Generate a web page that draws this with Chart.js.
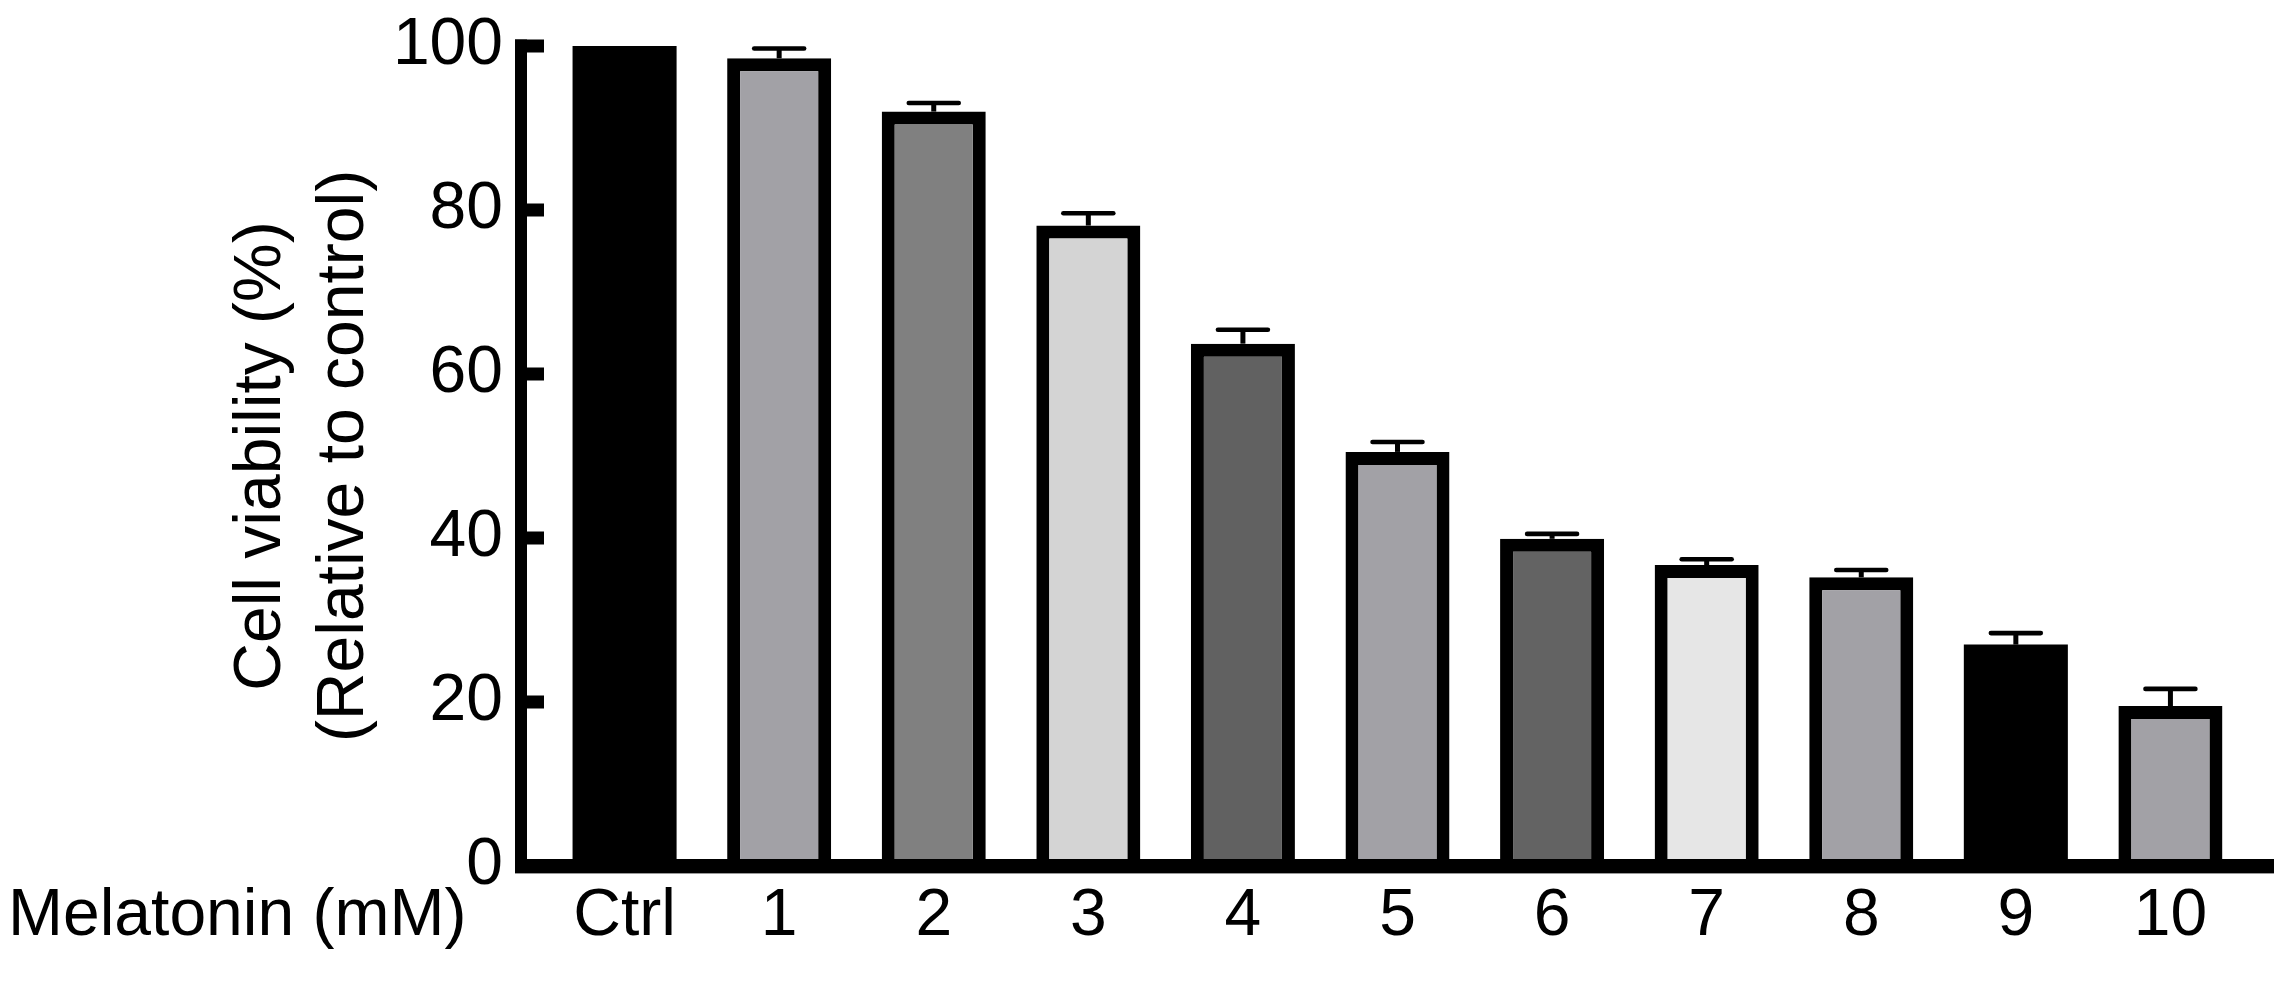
<!DOCTYPE html>
<html>
<head>
<meta charset="utf-8">
<script src="https://cdn.jsdelivr.net/npm/chart.js@4.4.1/dist/chart.umd.min.js"></script>
<style>
  html, body { margin: 0; padding: 0; background: #ffffff; }
  #wrap { width: 2294px; height: 981px; }
</style>
</head>
<body>
<div id="wrap"><canvas id="c" width="2294" height="981"></canvas></div>
<script>
// ---- data ----
const categories = ['Ctrl', '1', '2', '3', '4', '5', '6', '7', '8', '9', '10'];
const viability = [100, 98.5, 92.0, 78.1, 63.7, 50.5, 39.9, 36.7, 35.2, 27.0, 19.5];
const sem = [0, 1.2, 1.05, 1.5, 1.7, 1.2, 0.6, 0.7, 0.9, 1.4, 2.1];
const barColors = ['#000000', '#a2a1a6', '#808080', '#d4d4d4', '#616161', '#a2a1a6',
                   '#636363', '#e6e6e6', '#a2a1a6', '#000000', '#a2a1a6'];
const yTicks = [0, 20, 40, 60, 80, 100];
const yTitle = ['Cell viability (%)', '(Relative to control)'];
const xTitle = 'Melatonin (mM)';

const FONT = '"Liberation Sans", Arial, Helvetica, sans-serif';

// error bars + axes drawn through the scales
const decor = {
  id: 'decor',
  afterDatasetsDraw(chart) {
    const ctx = chart.ctx;
    const xs = chart.scales.x, ys = chart.scales.y;
    const meta = chart.getDatasetMeta(0);
    ctx.save();
    ctx.strokeStyle = '#000';
    // error bars (upper only)
    meta.data.forEach((bar, i) => {
      if (!sem[i]) return;
      const cx = bar.x;
      const yTop = ys.getPixelForValue(viability[i]);
      const yErr = ys.getPixelForValue(viability[i] + sem[i]);
      const half = bar.width * 0.24;
      ctx.lineCap = 'butt';
      ctx.lineWidth = 5;
      ctx.beginPath(); ctx.moveTo(cx, yTop); ctx.lineTo(cx, yErr); ctx.stroke();
      ctx.lineCap = 'round';
      ctx.lineWidth = 4.6;
      ctx.beginPath(); ctx.moveTo(cx - half, yErr); ctx.lineTo(cx + half, yErr); ctx.stroke();
    });
    // axes
    const ca = chart.chartArea;
    const y0 = ys.getPixelForValue(0);
    const yMax = ys.getPixelForValue(yTicks[yTicks.length - 1]);
    ctx.fillStyle = '#000';
    // y axis line
    ctx.fillRect(ca.left - 6, yMax - 6.5, 12, y0 - yMax + 13);
    // y ticks pointing inward
    yTicks.forEach(v => {
      const py = ys.getPixelForValue(v);
      ctx.fillRect(ca.left - 6, py - 6.5, 29, 13);
    });
    // x axis line
    ctx.fillRect(ca.left - 6, y0 - 7, xs.right - ca.left + 6, 14.4);
    // x-axis caption on the tick-label row
    ctx.font = '66px ' + FONT;
    ctx.textBaseline = 'middle';
    ctx.textAlign = 'left';
    ctx.fillText(xTitle, 8, y0 + 11 + 66 * 1.2 / 2);
    ctx.restore();
  }
};

new Chart(document.getElementById('c'), {
  type: 'bar',
  data: {
    datasets: [{
      data: categories.map((c, i) => ({ x: i, y: viability[i] })),
      backgroundColor: barColors,
      borderColor: '#000000',
      borderWidth: c => (barColors[c.dataIndex] === '#000000' ? 0 : 13),
      borderSkipped: 'start',
      barPercentage: 0.673,
      categoryPercentage: 1.0
    }]
  },
  options: {
    responsive: false,
    animation: false,
    devicePixelRatio: 1,
    layout: { padding: { top: 46, right: 20, left: 0, bottom: 0 } },
    plugins: { legend: { display: false }, tooltip: { enabled: false } },
    scales: {
      x: {
        type: 'linear',
        offset: false,
        min: -0.67,
        max: 10.67,
        grid: { display: false, drawTicks: false, offset: false },
        border: { display: false },
        afterBuildTicks: s => { s.ticks = categories.map((c, i) => ({ value: i })); },
        afterFit: s => { s.height = 115; s.paddingLeft = 0; s.paddingRight = 0; },
        ticks: {
          autoSkip: false,
          maxRotation: 0,
          padding: 11,
          color: '#000',
          font: { family: FONT, size: 66 },
          callback: v => categories[v] !== undefined ? categories[v] : ''
        }
      },
      y: {
        min: 0,
        max: 100,
        grid: { display: false, drawTicks: false },
        border: { display: false },
        afterBuildTicks: s => { s.ticks = yTicks.map(v => ({ value: v })); },
        afterFit: s => { s.width = 521; s.paddingTop = 0; s.paddingBottom = 0; },
        ticks: {
          padding: 18,
          color: '#000',
          font: { family: FONT, size: 66 }
        },
        title: {
          display: true,
          text: yTitle,
          color: '#000',
          font: { family: FONT, size: 66, lineHeight: 1.258 },
          padding: { top: 220, bottom: 0 }
        }
      }
    }
  },
  plugins: [decor]
});
</script>
</body>
</html>
